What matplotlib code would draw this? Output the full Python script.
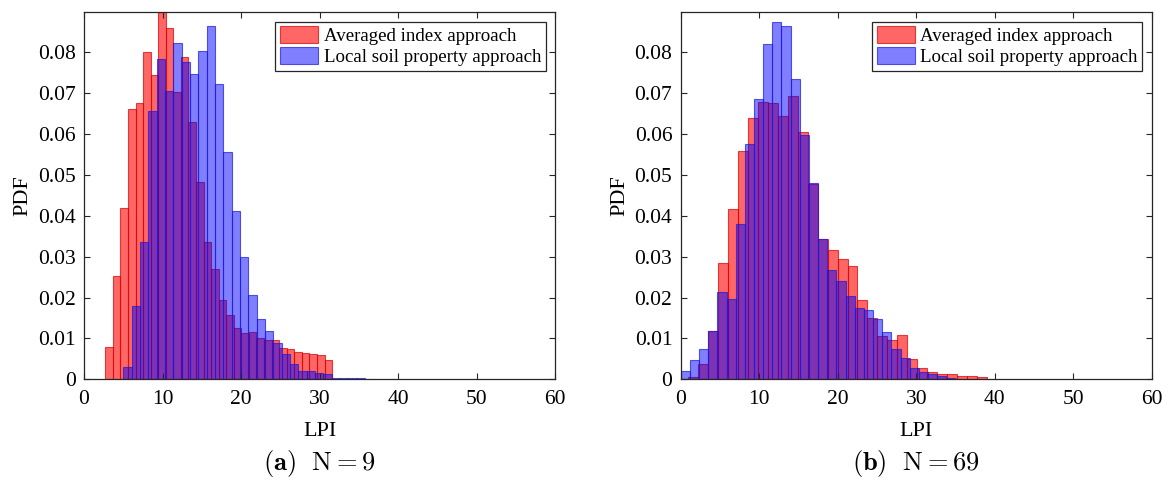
import numpy as np
import matplotlib
matplotlib.use('Agg')
import matplotlib.pyplot as plt

plt.rcParams['font.family'] = ['Liberation Serif', 'DejaVu Serif']
plt.rcParams['mathtext.fontset'] = 'cm'

# (a) N=9 : bin range and PDF values of each histogram (30 bins each)
a_avg_range = [2.71, 31.6]
a_avg_pdf = [0.0078, 0.0253, 0.0420, 0.0662, 0.0676, 0.0800, 0.0744, 0.0950, 0.0860, 0.0704,
             0.0789, 0.0629, 0.0482, 0.0337, 0.0269, 0.0194, 0.0158, 0.0125, 0.0113, 0.0115,
             0.0101, 0.0095, 0.0095, 0.0077, 0.0073, 0.0066, 0.0064, 0.0062, 0.0059, 0.0046]
a_loc_range = [5.0, 36.86]
a_loc_pdf = [0.0031, 0.0180, 0.0337, 0.0656, 0.0784, 0.0706, 0.0823, 0.0776, 0.0748, 0.0802,
             0.0864, 0.0722, 0.0555, 0.0412, 0.0298, 0.0205, 0.0147, 0.0118, 0.0088, 0.0062,
             0.0038, 0.0021, 0.0019, 0.0016, 0.0014, 0.0004, 0.0004, 0.0003, 0.0002, 0.0001]

# (b) N=69
b_avg_range = [0.96, 39.0]
b_avg_pdf = [0.0005, 0.0038, 0.0119, 0.0284, 0.0416, 0.0559, 0.0639, 0.0678, 0.0677, 0.0643,
             0.0692, 0.0605, 0.0478, 0.0344, 0.0317, 0.0294, 0.0278, 0.0194, 0.0149, 0.0106,
             0.0095, 0.0109, 0.0050, 0.0027, 0.0018, 0.0014, 0.0012, 0.0009, 0.0008, 0.0005]
b_loc_range = [0.0, 35.0]
b_loc_pdf = [0.0019, 0.0047, 0.0073, 0.0119, 0.0213, 0.0197, 0.0380, 0.0576, 0.0686, 0.0821,
             0.0874, 0.0864, 0.0735, 0.0598, 0.0479, 0.0344, 0.0268, 0.0241, 0.0204, 0.0175,
             0.0170, 0.0148, 0.0116, 0.0074, 0.0051, 0.0028, 0.0018, 0.0013, 0.0008, 0.0004]

series_names = ['Averaged index approach', 'Local soil property approach']
captions = [r'$\mathbf{(a)}\ \ \mathrm{N{=}9}$', r'$\mathbf{(b)}\ \ \mathrm{N{=}69}$']
xticks = [0, 10, 20, 30, 40, 50, 60]
yticks = [0, 0.01, 0.02, 0.03, 0.04, 0.05, 0.06, 0.07, 0.08]
ytick_labels = ['0', '0.01', '0.02', '0.03', '0.04', '0.05', '0.06', '0.07', '0.08']

panels = [
    (a_avg_range, a_avg_pdf, a_loc_range, a_loc_pdf),
    (b_avg_range, b_avg_pdf, b_loc_range, b_loc_pdf),
]

fig = plt.figure(figsize=(11.7, 4.9), dpi=100)
lefts = [0.0718, 0.5818]

for k, (r_rng, r_pdf, l_rng, l_pdf) in enumerate(panels):
    ax = fig.add_axes([lefts[k], 0.226, 0.4026, 0.749])

    r_edges = np.linspace(r_rng[0], r_rng[1], len(r_pdf) + 1)
    l_edges = np.linspace(l_rng[0], l_rng[1], len(l_pdf) + 1)
    ax.hist(r_edges[:-1], bins=r_edges, weights=r_pdf, facecolor=(1, 0, 0, 0.6),
            edgecolor=(0.85, 0, 0, 0.7), linewidth=0.8, label=series_names[0])
    ax.hist(l_edges[:-1], bins=l_edges, weights=l_pdf, facecolor=(0, 0, 1, 0.5),
            edgecolor=(0.1, 0.1, 0.85, 0.7), linewidth=0.8, label=series_names[1])

    ax.set_xlim(0, 60)
    ax.set_ylim(0, 0.0898)
    ax.set_xticks(xticks)
    ax.set_yticks(yticks)
    ax.set_yticklabels(ytick_labels)
    ax.tick_params(direction='in', top=True, right=True, labelsize=15.5, length=4,
                   color='#262626', width=0.8, pad=6)
    ax.tick_params(axis='x', pad=8)
    for sp in ax.spines.values():
        sp.set_color('#262626')
        sp.set_linewidth(0.9)
    ax.set_xlabel('LPI', fontsize=16, labelpad=9)
    ax.set_ylabel('PDF', fontsize=16, labelpad=4)

    leg = ax.legend(loc='upper right', fontsize=13.6, fancybox=False, framealpha=1,
                    edgecolor='#262626', borderaxespad=0.5, handlelength=2.0,
                    handleheight=1.0, handletextpad=0.3, borderpad=0.25, labelspacing=0.1)
    leg.get_frame().set_linewidth(0.9)

    fig.text(lefts[k] + 0.4026 / 2, 0.055, captions[k], ha='center', va='center', fontsize=19)

fig.savefig('out.png', dpi=100)
